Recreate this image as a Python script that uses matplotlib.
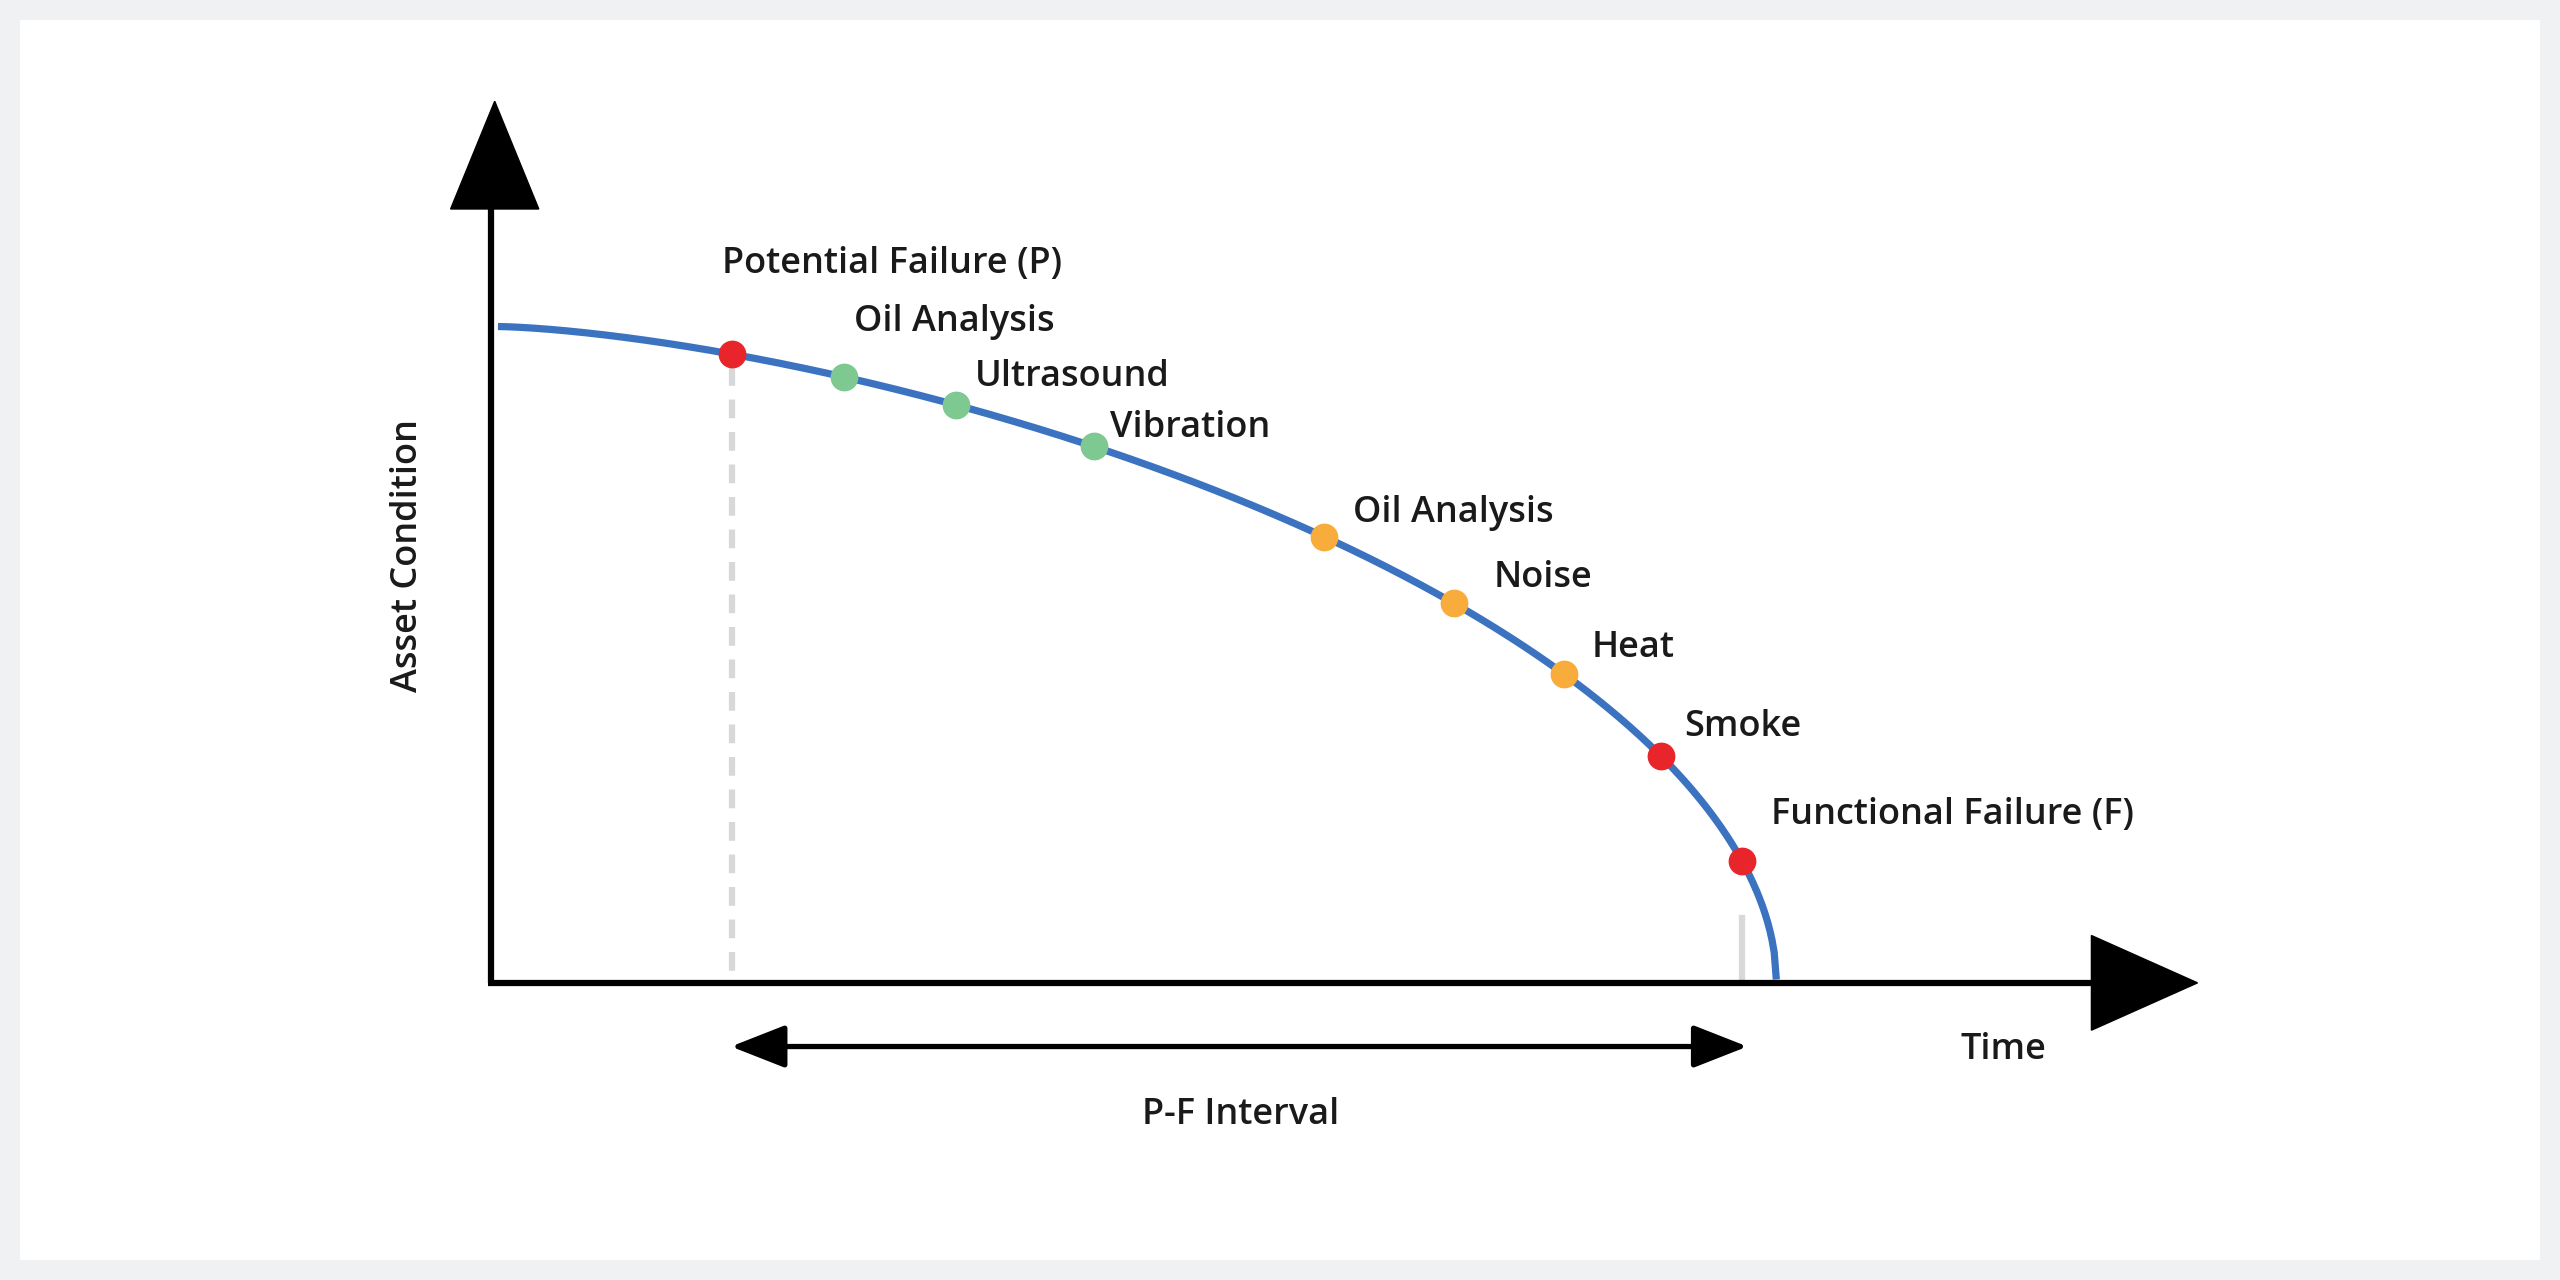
import numpy as np
import matplotlib.pyplot as plt
from matplotlib.patches import Rectangle, Polygon, FancyArrowPatch

# P-F curve: markers along the degradation curve (time fraction of curve span)
labels = ["Potential Failure (P)", "Oil Analysis", "Ultrasound", "Vibration",
          "Oil Analysis", "Noise", "Heat", "Smoke", "Functional Failure (F)"]
times = [0.183, 0.271, 0.358, 0.466, 0.646, 0.748, 0.834, 0.910, 0.973]
kinds = ["red", "green", "green", "green", "orange", "orange", "orange", "red", "red"]
label_dx = [-6, 6, 12, 10, 18, 24, 17, 14, 18]
label_y = [162, 197, 231, 262, 314, 354, 397, 445, 499]

colors = {"red": "#e8252b", "green": "#7ec892", "orange": "#f8ac3c"}
blue = "#3b73c0"

# layout in 1568x784 reference units
x0, x1 = 305, 1088
ytop, ybase = 200, 600


def cond(t):
    return (1 - np.clip(t, 0, 1) ** 1.5) ** 0.53


def to_xy(t):
    return x0 + t * (x1 - x0), ybase - cond(t) * (ybase - ytop)


fig = plt.figure(figsize=(25.6, 12.8), dpi=100)
ax = fig.add_axes([0, 0, 1, 1])
ax.set_xlim(0, 1568)
ax.set_ylim(784, 0)
ax.axis("off")
fig.patch.set_facecolor("#f0f1f3")
ax.add_patch(Rectangle((12, 12), 1544, 760, facecolor="white", edgecolor="none"))

font = dict(family="Open Sans", fontsize=26, fontweight="semibold", color="#1a1a1a")

# dashed guides
px, py = to_xy(times[0])
ax.plot([px, px], [py + 8, 600], color="#d8d8d8", lw=4.5, ls=(0, (3, 2.2)), zorder=1)
fx, fy = to_xy(times[-1])
ax.plot([fx, fx], [562, 600], color="#d8d8d8", lw=4.5, zorder=1)

# axes
ax.plot([301, 301], [602, 110], color="black", lw=4.5, solid_capstyle="butt", zorder=3)
ax.add_patch(Polygon([[303, 62], [276, 128], [330, 128]], closed=True, color="black", zorder=3))
ax.plot([299, 1290], [602, 602], color="black", lw=4.5, solid_capstyle="butt", zorder=3)
ax.add_patch(Polygon([[1346, 602], [1281, 573], [1281, 631]], closed=True, color="black", zorder=3))

# curve
t = np.linspace(0, 1, 600)
cx, cy = to_xy(t)
ax.plot(cx, cy, color=blue, lw=5.2, zorder=4, solid_capstyle="butt")

for tt, k, lab, dx, ly in zip(times, kinds, labels, label_dx, label_y):
    mx, my = to_xy(tt)
    ax.plot(mx, my, "o", ms=19, color=colors[k], zorder=5)
    ax.text(mx + dx, ly, lab, ha="left", va="center", **font)

# P-F interval arrow
ax.add_patch(FancyArrowPatch((446, 641), (1072, 641), arrowstyle="<|-|>,head_length=2.8,head_width=1.1",
                             mutation_scale=12, color="black", lw=3.8, zorder=3))
ax.text(760, 683, "P-F Interval", ha="center", va="center", **font)
ax.text(1227, 643, "Time", ha="center", va="center", **font)
ax.text(250, 340, "Asset Condition", ha="center", va="center", rotation=90, **font)

fig.savefig("out.png", dpi=100, facecolor=fig.get_facecolor())
